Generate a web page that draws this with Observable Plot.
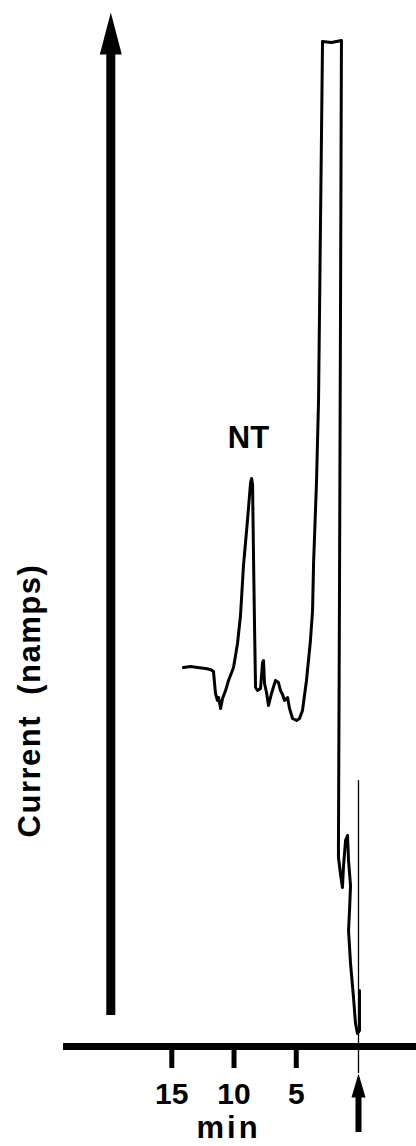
<!DOCTYPE html>
<html><head><meta charset="utf-8">
<script src="https://cdn.jsdelivr.net/npm/d3@7"></script>
<script src="https://cdn.jsdelivr.net/npm/@observablehq/plot@0.6"></script>
<style>html,body{margin:0;padding:0;background:#fff;}</style>
</head><body><div id="chart"></div>
<script>
// Chromatogram trace: retention time (min, read right-to-left) and detector current (arbitrary units)
const traceTime = [14.06,13.49,12.93,12.29,11.89,11.65,11.49,11.33,11.24,11.08,10.92,10.68,10.44,10.04,9.72,9.48,9.24,8.92,8.67,8.59,8.51,8.43,8.35,8.27,8.11,7.87,7.71,7.63,7.55,7.39,7.23,6.99,6.67,6.43,6.27,6.10,5.94,5.70,5.54,5.30,4.98,4.74,4.50,4.18,3.86,3.69,3.61,3.37,3.21,3.05,2.89,2.17,1.37,1.45,1.53,1.61,1.61,1.45,1.29,1.20,1.04,0.88,0.80,0.64,0.72,0.80,0.64,0.40,0.24,0.08,-0.08,-0.08];
const traceCurrent = [37.9,38.0,37.9,37.8,37.7,37.5,35.3,34.6,34.9,33.8,34.8,35.6,36.6,37.9,40.3,43.1,48.1,52.6,56.4,56.8,56.2,48.6,41.9,35.9,35.6,35.8,38.4,38.6,36.3,35.4,34.1,35.3,36.6,36.4,35.6,35.2,34.6,34.9,33.8,32.8,32.6,32.8,33.6,36.6,40.6,43.6,48.3,56.6,64.6,82.6,100.5,100.4,100.6,71.6,44.6,20.3,18.9,17.3,15.9,18.1,20.6,21.1,18.6,16.1,13.6,11.6,8.3,4.9,2.3,1.3,1.6,5.6];
const tickValues = [15, 10, 5];
const xLabel = "min";
const yLabel = "Current  (namps)";
const peakLabels = ["NT"];
const peakLabelTime = [8.84];
const peakLabelCurrent = [60.8];
const injectionTime = [0];
const injectionLineTop = [26.6];

const trace = traceTime.map((t, i) => ({time: t, current: traceCurrent[i]}));
const peaks = peakLabels.map((name, i) => ({name, time: peakLabelTime[i], current: peakLabelCurrent[i]}));
const injection = injectionTime.map((t, i) => ({time: t, top: injectionLineTop[i]}));

// y-axis arrow (drawn as a big arrow in the original)
const yArrow = [{time: 19.9, base: 3.1, headBase: 99.4, tip: 103.4}];
// injection arrow under the time axis
const injArrow = [{time: 0, tip: -2.7, headBase: -5.0, base: -8.6}];

const bigHead = {draw(ctx) { ctx.moveTo(0, 0); ctx.lineTo(11, 42); ctx.lineTo(-11, 42); ctx.closePath(); }};
const smallHead = {draw(ctx) { ctx.moveTo(0, 0); ctx.lineTo(7, 24); ctx.lineTo(-7, 24); ctx.closePath(); }};

const chart = Plot.plot({
  width: 416,
  height: 1146,
  marginLeft: 63,
  marginRight: 0,
  marginTop: 0,
  marginBottom: 100,
  style: {fontFamily: "'Liberation Sans', Arial, sans-serif", background: "white", color: "black"},
  x: {domain: [23.7, -4.66]},
  y: {domain: [0, 104.6], axis: null},
  marks: [
    Plot.ruleY([0], {strokeWidth: 7}),
    Plot.axisX({ticks: tickValues, tickSize: 22, tickPadding: 14, strokeWidth: 5, fontSize: 30, fontWeight: "bold", label: null}),
    Plot.text([xLabel], {x: 10.44, y: -8.2, fontSize: 31, fontWeight: "bold", lineAnchor: "middle"}),
    Plot.ruleX(injection, {x: "time", y1: d => -2.7, y2: "top", strokeWidth: 1.3}),
    Plot.line(trace, {x: "time", y: "current", strokeWidth: 3, strokeLinejoin: "round", strokeLinecap: "round"}),
    Plot.ruleX(yArrow, {x: "time", y1: "base", y2: "headBase", strokeWidth: 9}),
    Plot.dot(yArrow, {x: "time", y: "tip", symbol: bigHead, fill: "black", stroke: "none"}),
    Plot.ruleX(injArrow, {x: "time", y1: "base", y2: "headBase", strokeWidth: 6}),
    Plot.dot(injArrow, {x: "time", y: "tip", symbol: smallHead, fill: "black", stroke: "none"}),
    Plot.text(peaks, {x: "time", y: "current", text: "name", fontSize: 31, fontWeight: "bold", lineAnchor: "middle"}),
    Plot.text([yLabel], {frameAnchor: "left", dx: -33, y: 34.6, rotate: -90, fontSize: 31, fontWeight: "bold", textAnchor: "middle", lineAnchor: "middle"})
  ]
});
d3.select(chart).selectAll("text").filter(function() { return this.textContent === xLabel; }).style("letter-spacing", "3px");
d3.select(chart).selectAll("text").filter(function() { return this.textContent === yLabel; }).style("letter-spacing", "1.5px");
document.getElementById("chart").appendChild(chart);
</script>
</body></html>
